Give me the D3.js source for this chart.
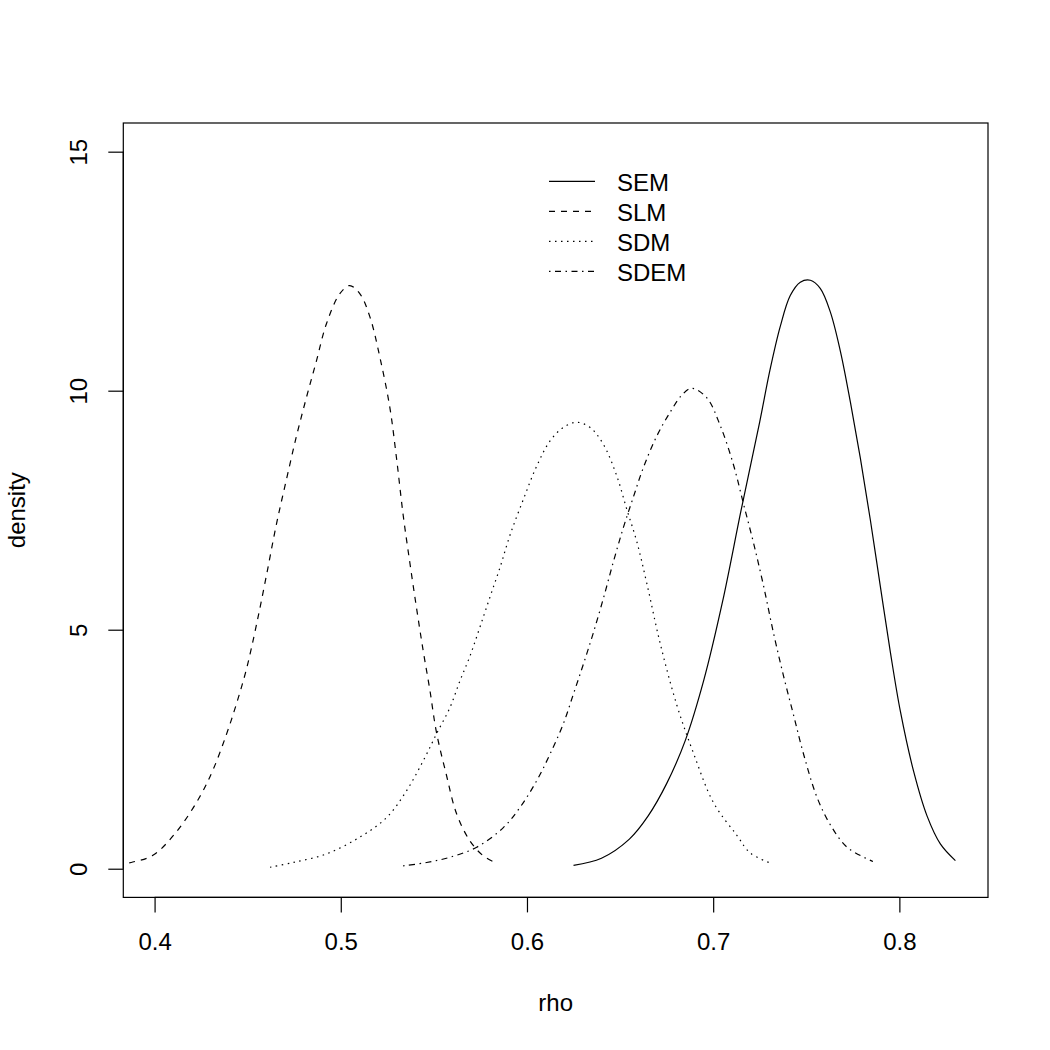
<!DOCTYPE html>
<html>
<head>
<meta charset="utf-8">
<script src="https://cdn.jsdelivr.net/npm/d3@7"></script>
<style>
  html, body { margin: 0; padding: 0; background: #ffffff; }
  svg { display: block; }
  text { font-family: "Liberation Sans", Arial, Helvetica, sans-serif; fill: #000; }
</style>
</head>
<body>
<svg id="chart" width="1050" height="1050"></svg>
<script>
// ---------------- data ----------------
const seriesNames = ["SEM", "SLM", "SDM", "SDEM"];

const semRho     = [0.625, 0.640, 0.655, 0.665, 0.675, 0.685, 0.695, 0.705, 0.715, 0.725, 0.7306, 0.7360, 0.7414, 0.7468, 0.7522, 0.7575, 0.7629, 0.7683, 0.7737, 0.7790, 0.7844, 0.7898, 0.7952, 0.8005, 0.8077, 0.8149, 0.8220, 0.8301];
const semDensity = [0.07, 0.22, 0.62, 1.10, 1.78, 2.68, 3.95, 5.58, 7.50, 9.35, 10.45, 11.34, 11.99, 12.27, 12.31, 12.14, 11.65, 10.83, 9.76, 8.60, 7.30, 5.90, 4.52, 3.30, 2.03, 1.10, 0.52, 0.17];

const slmRho     = [0.3800, 0.3883, 0.3991, 0.4117, 0.4242, 0.4314, 0.4385, 0.4439, 0.4493, 0.4547, 0.4600, 0.4654, 0.4708, 0.4762, 0.4815, 0.4869, 0.4923, 0.4995, 0.5048, 0.5102, 0.5156, 0.5210, 0.5263, 0.5299, 0.5335, 0.5371, 0.5407, 0.5443, 0.5478, 0.5514, 0.5568, 0.5622, 0.5694, 0.5765, 0.5828];
const slmDensity = [0.08, 0.14, 0.28, 0.77, 1.50, 2.07, 2.80, 3.44, 4.17, 5.10, 6.12, 7.20, 8.14, 9.05, 9.85, 10.62, 11.40, 12.03, 12.20, 12.03, 11.55, 10.70, 9.66, 8.60, 7.40, 6.40, 5.45, 4.55, 3.75, 2.85, 1.95, 1.15, 0.58, 0.27, 0.13];

const sdmRho     = [0.4620, 0.4744, 0.4923, 0.5102, 0.5246, 0.5353, 0.5443, 0.5514, 0.5586, 0.5640, 0.5694, 0.5747, 0.5801, 0.5855, 0.5909, 0.5980, 0.6052, 0.6124, 0.6195, 0.6267, 0.6339, 0.6410, 0.6482, 0.6536, 0.6590, 0.6643, 0.6715, 0.6805, 0.6894, 0.7002, 0.7127, 0.7199, 0.7306];
const sdmDensity = [0.03, 0.13, 0.31, 0.66, 1.07, 1.63, 2.26, 2.82, 3.37, 3.93, 4.45, 5.05, 5.68, 6.30, 6.98, 7.72, 8.42, 8.95, 9.23, 9.34, 9.23, 8.88, 8.22, 7.52, 6.84, 5.98, 4.72, 3.42, 2.42, 1.38, 0.70, 0.33, 0.12];

const sdemRho     = [0.5335, 0.5461, 0.5586, 0.5730, 0.5873, 0.5962, 0.6052, 0.6124, 0.6195, 0.6249, 0.6303, 0.6356, 0.6410, 0.6464, 0.6518, 0.6571, 0.6625, 0.6697, 0.6769, 0.6830, 0.6885, 0.6966, 0.7038, 0.7109, 0.7163, 0.7217, 0.7271, 0.7324, 0.7378, 0.7432, 0.7486, 0.7558, 0.7629, 0.7719, 0.7858];
const sdemDensity = [0.06, 0.13, 0.24, 0.45, 0.86, 1.28, 1.84, 2.40, 3.03, 3.65, 4.28, 4.93, 5.65, 6.42, 7.14, 7.77, 8.39, 9.05, 9.55, 9.90, 10.05, 9.85, 9.27, 8.45, 7.63, 6.81, 5.91, 4.93, 4.03, 3.21, 2.39, 1.49, 0.92, 0.45, 0.15];

const xTicks = [0.4, 0.5, 0.6, 0.7, 0.8];
const xTickLabels = ["0.4", "0.5", "0.6", "0.7", "0.8"];
const yTicks = [0, 5, 10, 15];
const yTickLabels = ["0", "5", "10", "15"];
const xTitle = "rho";
const yTitle = "density";

// ---------------- layout ----------------
const W = 1050, H = 1050;
const plot = { left: 123.3, top: 123, right: 988, bottom: 897.4 };
const fontSize = 24;
const lineW = 1.2;
const dashes = { SEM: null, SLM: "6,6", SDM: "1.5,4.5", SDEM: "1.5,4.5,6,4.5" };

const x = d3.scaleLinear().domain([0.3832, 0.8476]).range([plot.left, plot.right]);
const y = d3.scaleLinear().domain([-0.6, 15.6]).range([plot.bottom, plot.top]);

const svg = d3.select("#chart");
svg.append("rect").attr("width", W).attr("height", H).attr("fill", "#fff");

svg.append("defs").append("clipPath").attr("id", "plotclip")
  .append("rect")
  .attr("x", plot.left).attr("y", plot.top)
  .attr("width", plot.right - plot.left).attr("height", plot.bottom - plot.top);

const series = [
  { name: "SEM",  rho: semRho,  d: semDensity },
  { name: "SLM",  rho: slmRho,  d: slmDensity },
  { name: "SDM",  rho: sdmRho,  d: sdmDensity },
  { name: "SDEM", rho: sdemRho, d: sdemDensity }
];

const line = d3.line()
  .x(p => x(p[0]))
  .y(p => y(p[1]))
  .curve(d3.curveCatmullRom.alpha(0.5));

const gCurves = svg.append("g").attr("clip-path", "url(#plotclip)");
series.forEach(s => {
  const pts = s.rho.map((r, i) => [r, s.d[i]]);
  gCurves.append("path")
    .datum(pts)
    .attr("d", line)
    .attr("fill", "none")
    .attr("stroke", "#000")
    .attr("stroke-width", lineW)
    .attr("stroke-dasharray", dashes[s.name]);
});

// box
svg.append("rect")
  .attr("x", plot.left).attr("y", plot.top)
  .attr("width", plot.right - plot.left).attr("height", plot.bottom - plot.top)
  .attr("fill", "none").attr("stroke", "#000").attr("stroke-width", lineW);

// x axis
const xAxis = d3.axisBottom(x)
  .tickValues(xTicks)
  .tickFormat((d, i) => xTickLabels[i])
  .tickSize(15)
  .tickSizeOuter(0);
const gx = svg.append("g").attr("transform", `translate(0,${plot.bottom})`).call(xAxis);
gx.select(".domain").remove();
gx.selectAll(".tick line").attr("stroke", "#000").attr("stroke-width", lineW);
gx.selectAll(".tick text")
  .attr("dy", null).attr("y", 53)
  .attr("font-size", fontSize)
  .style("font-family", "'Liberation Sans', Arial, Helvetica, sans-serif")
  .attr("fill", "#000");
gx.append("line")
  .attr("x1", x(xTicks[0])).attr("x2", x(xTicks[xTicks.length - 1]))
  .attr("y1", 0).attr("y2", 0)
  .attr("stroke", "#000").attr("stroke-width", lineW);

// y axis
const yAxis = d3.axisLeft(y)
  .tickValues(yTicks)
  .tickFormat((d, i) => yTickLabels[i])
  .tickSize(15)
  .tickSizeOuter(0);
const gy = svg.append("g").attr("transform", `translate(${plot.left},0)`).call(yAxis);
gy.select(".domain").remove();
gy.selectAll(".tick line").attr("stroke", "#000").attr("stroke-width", lineW);
gy.selectAll(".tick text")
  .attr("dy", null).attr("x", 0).attr("y", -36.3)
  .attr("transform", "rotate(-90)")
  .attr("text-anchor", "middle")
  .attr("font-size", fontSize)
  .style("font-family", "'Liberation Sans', Arial, Helvetica, sans-serif")
  .attr("fill", "#000");
gy.append("line")
  .attr("x1", 0).attr("x2", 0)
  .attr("y1", y(yTicks[0])).attr("y2", y(yTicks[yTicks.length - 1]))
  .attr("stroke", "#000").attr("stroke-width", lineW);

// axis titles
svg.append("text")
  .attr("x", (plot.left + plot.right) / 2).attr("y", 1011)
  .attr("text-anchor", "middle").attr("font-size", fontSize)
  .text(xTitle);
svg.append("text")
  .attr("transform", `translate(25,${(plot.top + plot.bottom) / 2}) rotate(-90)`)
  .attr("text-anchor", "middle").attr("font-size", fontSize)
  .text(yTitle);

// legend
const legend = svg.append("g");
const legTop = 181.3, legStep = 30, legX1 = 549, legX2 = 595, legTextX = 617;
seriesNames.forEach((name, i) => {
  const ly = legTop + i * legStep;
  legend.append("line")
    .attr("x1", legX1).attr("x2", legX2).attr("y1", ly).attr("y2", ly)
    .attr("stroke", "#000").attr("stroke-width", lineW)
    .attr("stroke-dasharray", dashes[name]);
  legend.append("text")
    .attr("x", legTextX).attr("y", ly + 9.4)
    .attr("font-size", fontSize)
    .text(name);
});
</script>
</body>
</html>
